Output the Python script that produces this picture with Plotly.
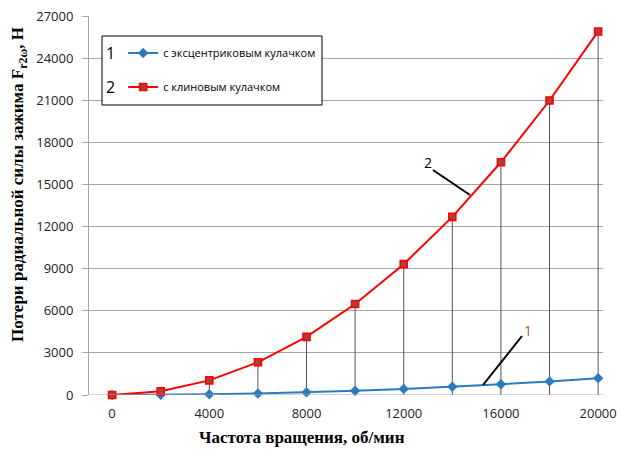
import plotly.graph_objects as go

speed = [0, 2000, 4000, 6000, 8000, 10000, 12000, 14000, 16000, 18000, 20000]
eccentric = [0, 15, 50, 110, 195, 300, 435, 590, 770, 970, 1200]
wedge = [0, 260, 1040, 2330, 4140, 6480, 9320, 12690, 16580, 20980, 25900]
name1 = "с эксцентриковым кулачком"
name2 = "с клиновым кулачком"
x_ticks = [0, 4000, 8000, 12000, 16000, 20000]
y_ticks = [0, 3000, 6000, 9000, 12000, 15000, 18000, 21000, 24000, 27000]

W, H = 620, 452
L, R, T, B = 89, 17, 16, 57
pw, ph = W - L - R, H - T - B

def px(x):
    return (x - L) / pw

def py(y):
    return (H - B - y) / ph

fig = go.Figure()
fig.add_trace(go.Scatter(
    x=speed, y=wedge, mode="lines", showlegend=False, hoverinfo="skip",
    line=dict(width=0),
    error_y=dict(type="data", symmetric=False, array=[0] * len(wedge),
                 arrayminus=wedge, color="#555555", thickness=1, width=0),
))
fig.add_trace(go.Scatter(
    x=speed, y=eccentric, mode="lines+markers", name=name1, legend="legend",
    line=dict(color="#2A7BC0", width=2),
    marker=dict(symbol="diamond", size=8, color="#2A7BC0"),
    cliponaxis=False,
))
fig.add_trace(go.Scatter(
    x=speed, y=wedge, mode="lines+markers", name=name2, legend="legend2",
    line=dict(color="#FF0000", width=2),
    marker=dict(symbol="square", size=7, color="#A84040",
                line=dict(color="#FF0000", width=1.6)),
    cliponaxis=False,
))

font_leg = dict(family="Open Sans", size=11, color="#000000")
title_font = dict(family="Open Sans", size=16, color="#000000")
fig.update_layout(
    width=W, height=H,
    margin=dict(l=L, r=R, t=T, b=B, autoexpand=False),
    paper_bgcolor="white", plot_bgcolor="white",
    showlegend=True,
    legend=dict(x=px(104), y=py(54), xanchor="left", yanchor="middle",
                bgcolor="rgba(0,0,0,0)", font=font_leg, borderwidth=0,
                title=dict(text="1", side="left", font=title_font)),
    legend2=dict(x=px(104), y=py(88), xanchor="left", yanchor="middle",
                 bgcolor="rgba(0,0,0,0)", font=font_leg, borderwidth=0,
                 title=dict(text="2", side="left", font=title_font)),
    xaxis=dict(range=[-950, 20200], tickvals=x_ticks,
               ticktext=[str(v) for v in x_ticks], showgrid=False,
               zeroline=False, showline=False, ticks="", automargin=False,
               ticklabelstandoff=9,
               tickfont=dict(family="Open Sans", size=13, color="#222222")),
    yaxis=dict(range=[0, 27000], tickvals=y_ticks,
               ticktext=[str(v) for v in y_ticks], showgrid=True,
               gridcolor="#A6A6A6", gridwidth=1, zeroline=False, automargin=False,
               showline=True, linecolor="#A6A6A6", linewidth=1,
               ticks="outside", ticklen=6, tickcolor="#A6A6A6",
               ticklabelstandoff=6,
               tickfont=dict(family="Open Sans", size=13, color="#222222")),
    shapes=[
        dict(type="line", xref="paper", yref="y", x0=0, x1=1, y0=0, y1=0,
             line=dict(color="#A6A6A6", width=1)),
        dict(type="rect", xref="paper", yref="paper", x0=px(102), x1=px(322),
             y0=py(105), y1=py(36), line=dict(color="#000000", width=1),
             fillcolor="white", layer="above"),
        dict(type="line", xref="paper", yref="paper", x0=px(433), y0=py(170),
             x1=px(470), y1=py(195), line=dict(color="#000000", width=2)),
        dict(type="line", xref="paper", yref="paper", x0=px(522), y0=py(336),
             x1=px(483), y1=py(385), line=dict(color="#000000", width=2)),
    ],
    annotations=[
        dict(text="2", xref="paper", yref="paper", x=px(428), y=py(162),
             xanchor="center", yanchor="middle", showarrow=False,
             font=dict(family="Open Sans", size=14, color="#000")),
        dict(text="1", xref="paper", yref="paper", x=px(528), y=py(330),
             xanchor="center", yanchor="middle", showarrow=False,
             font=dict(family="Open Sans", size=14, color="#B5651D")),
        dict(text="<b>Частота вращения, об/мин</b>", xref="paper", yref="paper",
             x=px(302), y=py(437), xanchor="center", yanchor="middle",
             showarrow=False,
             font=dict(family="Liberation Serif", size=17, color="#000")),
        dict(text="<b>Потери радиальной силы зажима F<sub>r2ω</sub>, Н</b>", xref="paper",
             yref="paper", x=px(19), y=py(185), xanchor="center", yanchor="middle",
             showarrow=False, textangle=-90,
             font=dict(family="Liberation Serif", size=17, color="#000")),
    ],
)
fig.write_html("out.html", config={"displayModeBar": False},
               post_script="document.body.style.margin='0';")
